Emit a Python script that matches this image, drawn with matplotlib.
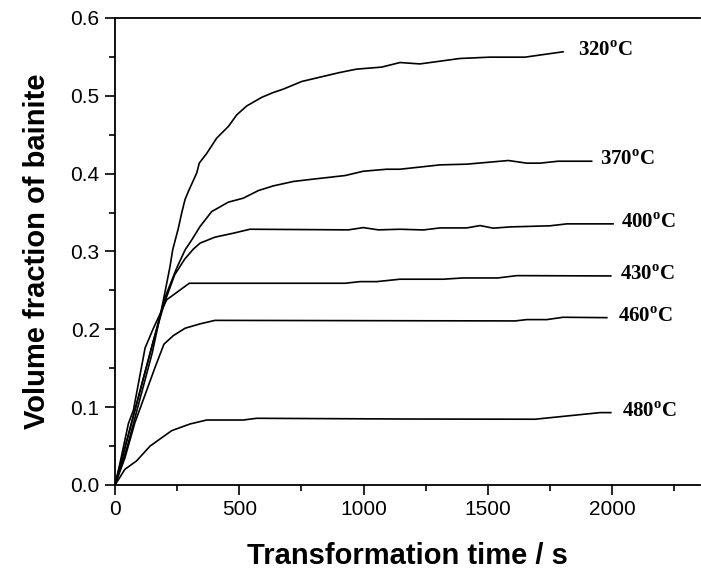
import matplotlib
matplotlib.use("Agg")
import matplotlib.pyplot as plt
from matplotlib.ticker import MultipleLocator

plt.rcParams['mathtext.fontset'] = 'custom'
plt.rcParams['mathtext.rm'] = 'Liberation Serif:bold'
plt.rcParams['mathtext.bf'] = 'Liberation Serif:bold'

# bainite volume fraction vs isothermal holding time
t_320 = [0, 50, 100, 150, 190, 221, 232, 255, 268, 282, 295, 329, 339, 369, 409, 456, 490, 530,
         590, 637, 677, 751, 825, 905, 972, 1073, 1147, 1227, 1388, 1509, 1650, 1803]
f_320 = [0, 0.05, 0.11, 0.17, 0.23, 0.28, 0.302, 0.33, 0.349, 0.367, 0.377, 0.401, 0.4135, 0.426,
         0.4456, 0.4606, 0.4756, 0.487, 0.498, 0.5043, 0.5086, 0.5184, 0.524, 0.53, 0.5343, 0.5369,
         0.5428, 0.541, 0.548, 0.5497, 0.5497, 0.5566]

t_370 = [0, 50, 100, 150, 200, 250, 282, 309, 342, 389, 456, 516, 577, 637, 718, 798, 926, 999,
         1093, 1147, 1308, 1415, 1583, 1657, 1710, 1783, 1918]
f_370 = [0, 0.06, 0.12, 0.18, 0.24, 0.28, 0.302, 0.315, 0.332, 0.3513, 0.3634, 0.3685, 0.3783,
         0.3843, 0.39, 0.393, 0.3976, 0.4031, 0.4057, 0.4057, 0.4113, 0.4122, 0.4169, 0.4135,
         0.4135, 0.416, 0.416]

t_400 = [0, 50, 100, 150, 200, 240, 280, 315, 342, 402, 476, 543, 939, 999, 1060, 1147, 1241,
         1308, 1415, 1469, 1522, 1590, 1750, 1818, 2004]
f_400 = [0, 0.06, 0.12, 0.18, 0.235, 0.27, 0.29, 0.303, 0.3107, 0.3184, 0.3235, 0.3286, 0.3278,
         0.3307, 0.3278, 0.3286, 0.3277, 0.3303, 0.3303, 0.3333, 0.33, 0.3316, 0.333, 0.3355, 0.3355]

t_430 = [0, 20, 54, 74, 121, 154, 208, 299, 926, 986, 1053, 1147, 1320, 1400, 1540, 1617, 1995]
f_430 = [0, 0.028, 0.079, 0.096, 0.176, 0.201, 0.238, 0.2592, 0.2592, 0.2613, 0.2613, 0.2644,
         0.2644, 0.266, 0.266, 0.269, 0.2686]

t_460 = [0, 40, 80, 120, 161, 197, 235, 282, 342, 402, 1610, 1657, 1737, 1803, 1979]
f_460 = [0, 0.035, 0.08, 0.115, 0.151, 0.181, 0.192, 0.2014, 0.207, 0.2115, 0.2108, 0.2125,
         0.2125, 0.2155, 0.215]

t_480 = [0, 40, 87, 141, 228, 302, 369, 516, 570, 1147, 1690, 1952, 1995]
f_480 = [0, 0.0202, 0.031, 0.05, 0.0698, 0.0784, 0.0835, 0.0835, 0.0857, 0.0848, 0.0845, 0.093,
         0.093]

series = [
    (t_320, f_320, "320", 1863),
    (t_370, f_370, "370", 1952),
    (t_400, f_400, "400", 2036),
    (t_430, f_430, "430", 2032),
    (t_460, f_460, "460", 2024),
    (t_480, f_480, "480", 2039),
]

fig = plt.figure(figsize=(7.01, 5.75), dpi=100)
ax = fig.add_axes([115 / 701, 1 - 485 / 575, 585 / 701, 467 / 575])

for t, f, temp, x_lab in series:
    ax.plot(t, f, color="black", lw=1.2)
    ax.text(x_lab, f[-1] + 0.001, temp + r"$^\mathregular{o}$C", fontsize=15,
            family="Liberation Serif", weight="bold", va="center", ha="left")

ax.set_xlim(0, 2354)
ax.set_ylim(0, 0.6)
ax.xaxis.set_major_locator(MultipleLocator(500))
ax.xaxis.set_minor_locator(MultipleLocator(250))
ax.yaxis.set_major_locator(MultipleLocator(0.1))
ax.yaxis.set_minor_locator(MultipleLocator(0.05))
ax.yaxis.set_major_formatter(plt.FormatStrFormatter("%.1f"))

ax.spines["right"].set_visible(False)
for s in ["left", "bottom", "top"]:
    ax.spines[s].set_linewidth(1.3)
ax.tick_params(which="major", direction="out", length=7, width=1.2,
               labelsize=15, pad=4)
ax.tick_params(which="minor", direction="out", length=4, width=1.2)
for lab in ax.get_xticklabels() + ax.get_yticklabels():
    lab.set_family("Liberation Sans")

ax.set_xlabel("Transformation time / s", family="Liberation Sans", weight="bold",
              fontsize=21, labelpad=16)
ax.set_ylabel("Volume fraction of bainite", family="Liberation Sans", weight="bold",
              fontsize=21, labelpad=14)

fig.savefig("out.png", dpi=100)
